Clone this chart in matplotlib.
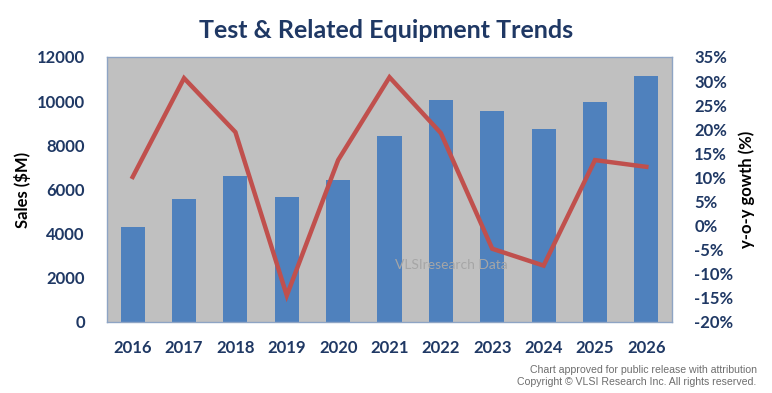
import numpy as np
import matplotlib
matplotlib.use("Agg")
from matplotlib import pyplot as plt
from matplotlib.ticker import FuncFormatter

years = ['2016', '2017', '2018', '2019', '2020', '2021', '2022', '2023', '2024', '2025', '2026']
sales = [4280, 5550, 6630, 5680, 6450, 8430, 10060, 9560, 8750, 9970, 11140]
growth = [10.1, 30.6, 19.4, -14.5, 13.6, 30.8, 19.2, -4.8, -8.3, 13.6, 12.2]

navy = '#1F3864'
plt.rcParams['font.family'] = ['Lato', 'DejaVu Sans']

fig = plt.figure(figsize=(7.72, 3.93), dpi=100)
ax = fig.add_axes([0.1386, 0.1807, 0.7319, 0.6743])
ax.set_facecolor('#C0C0C0')
x = np.arange(len(years))
ax.bar(x, sales, width=0.47, color='#4F81BD', zorder=2)
ax.set_xlim(-0.5, len(years) - 0.5)
ax.set_ylim(0, 12000)
ax.set_yticks(range(0, 12001, 2000))
ax.set_xticks(x)
ax.set_xticklabels(years)
for sp in ax.spines.values():
    sp.set_color('#8EA4C4')
    sp.set_linewidth(1)
ax.tick_params(length=0, labelsize=12, labelcolor=navy)
ax.tick_params(axis='x', pad=13)
ax.tick_params(axis='y', pad=16)
for lab in ax.get_xticklabels() + ax.get_yticklabels():
    lab.set_fontweight('bold')
ax.set_ylabel('Sales ($M)', fontsize=12, fontweight='bold', color='black', labelpad=4)

ax2 = ax.twinx()
ax2.plot(x, growth, color='#C0504D', lw=3.2, zorder=3, solid_joinstyle='miter')
ax2.set_ylim(-20, 35)
ax2.set_yticks(range(-20, 36, 5))
ax2.yaxis.set_major_formatter(FuncFormatter(lambda v, p: '%d%%' % v))
ax2.tick_params(length=0, labelsize=12, labelcolor=navy, pad=16)
for lab in ax2.get_yticklabels():
    lab.set_fontweight('bold')
for sp in ax2.spines.values():
    sp.set_visible(False)
ax2.set_ylabel('y-o-y gowth (%)', fontsize=12, fontweight='bold', color='black', labelpad=4)

fig.text(0.5, 0.922, 'Test & Related Equipment Trends', ha='center', va='center',
         fontsize=18, fontweight='bold', color=navy)
ax.text(0.61, 0.215, 'VLSIresearch Data', transform=ax.transAxes, ha='center', va='center',
        fontsize=10, color='#A6A6A6', zorder=4)
fig.text(0.98, 0.058, 'Chart approved for public release with attribution', ha='right',
         va='center', fontsize=7.6, color='#6E6E6E', family='Liberation Sans')
fig.text(0.98, 0.027, 'Copyright \u00a9 VLSI Research Inc. All rights reserved.', ha='right',
         va='center', fontsize=7.6, color='#6E6E6E', family='Liberation Sans')

fig.savefig('out.png', dpi=100)
